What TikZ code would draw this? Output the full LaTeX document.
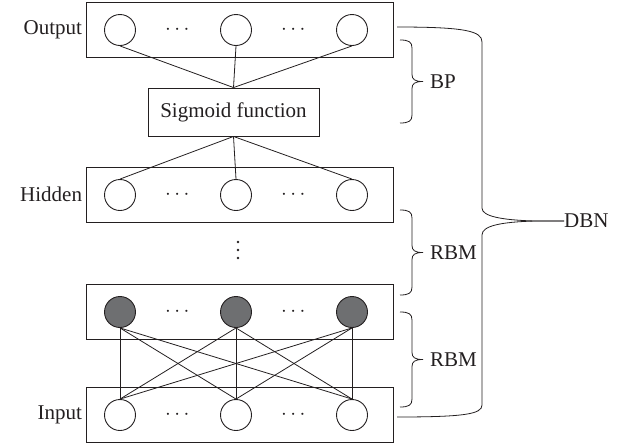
\documentclass[tikz,border=0pt]{standalone}
\usepackage{fontspec}
\setmainfont{Liberation Serif}
\usepackage{amsmath}
\usetikzlibrary{positioning}
\definecolor{inkgray}{RGB}{35,31,32}
\definecolor{unitgray}{RGB}{110,111,113}
\begin{document}
\begin{tikzpicture}[x=1pt,y=-1pt,
		every node/.style={font=\fontsize{21}{23}\selectfont, text=inkgray},
		layer/.style={draw=inkgray, line width=0.9pt, minimum width=307pt, minimum height=55pt, inner sep=0pt},
		unit/.style={circle, draw=inkgray, line width=0.9pt, fill=white, minimum size=31pt, inner sep=0pt},
		hunit/.style={unit, fill=unitgray},
		link/.style={draw=inkgray, line width=0.8pt}]
		\useasboundingbox (0,0) rectangle (629,445);
		% layers
		\node[layer] (outbox) at (239.5,29.5) {};
		\node[layer] (hidbox) at (239.5,194.5) {};
		\node[layer] (shbox) at (239.5,311.5) {};
		\node[layer] (inbox) at (239.5,415) {};
		\node[draw=inkgray, line width=0.9pt, minimum width=171pt, minimum height=48pt] (sig) at (233.5,112) {Sigmoid function};
		
		\node[left=0pt of outbox] {Output};
		\node[left=0pt of hidbox] {Hidden};
		\node[left=0pt of inbox] {Input};
		
		% units
		\foreach \i/\x in {1/120,2/236,3/352} {
			\node[unit] (o\i) at (\x,30) {};
			\node[unit] (h\i) at (\x,195) {};
			\node[hunit] (s\i) at (\x,312) {};
			\node[unit] (in\i) at (\x,415) {};
		}
		\foreach \y in {30,195,312,415} {
			\node at (179,\y) {$\cdots$};
			\node at (295,\y) {$\cdots$};
		}
		\foreach \y in {242,250,258}
			\fill[inkgray] (238,\y) circle (1.3);
		
		% connections
		\foreach \i in {1,2,3} {
			\draw[link] (o\i.south) -- (sig.north);
			\draw[link] (sig.south) -- (h\i.north);
			\foreach \j in {1,2,3}
				\draw[link] (s\i.south) -- (in\j.north);
		}
		
		% braces
		\foreach \t/\b/\txt/\nm in {40/123/BP/bp, 210/295/RBM/rbma, 312/407/RBM/rbmb} {
			\pgfmathsetmacro{\m}{(\t+\b)/2}
			\coordinate (\nm tip) at (423,\m);
			\node[anchor=west, inner sep=0pt] (\nm) at (430,\m) {\txt};
			\draw[link] (400,\t) .. controls (409,\t) and (412,\t+2) .. (412,\t+8) -- (412,\m-7)
				.. controls (412,\m-2) and (415,\m) .. (\nm tip)
				.. controls (415,\m) and (412,\m+2) .. (412,\m+7) -- (412,\b-8)
				.. controls (412,\b-2) and (409,\b) .. (400,\b);
		}
		
		\node[anchor=west, inner sep=0pt] (dbn) at (564,221) {DBN};
		\draw[link] (397,27) .. controls (465,27) and (482,31) .. (482,42) -- (482,208)
			.. controls (482,216) and (500,220) .. (535,221) -- (dbn.west);
		\draw[link] (dbn.west) -- (535,221) .. controls (500,222) and (482,226) .. (482,235)
			-- (482,405) .. controls (482,414) and (465,417) .. (397,417);
	\end{tikzpicture}
\end{document}
